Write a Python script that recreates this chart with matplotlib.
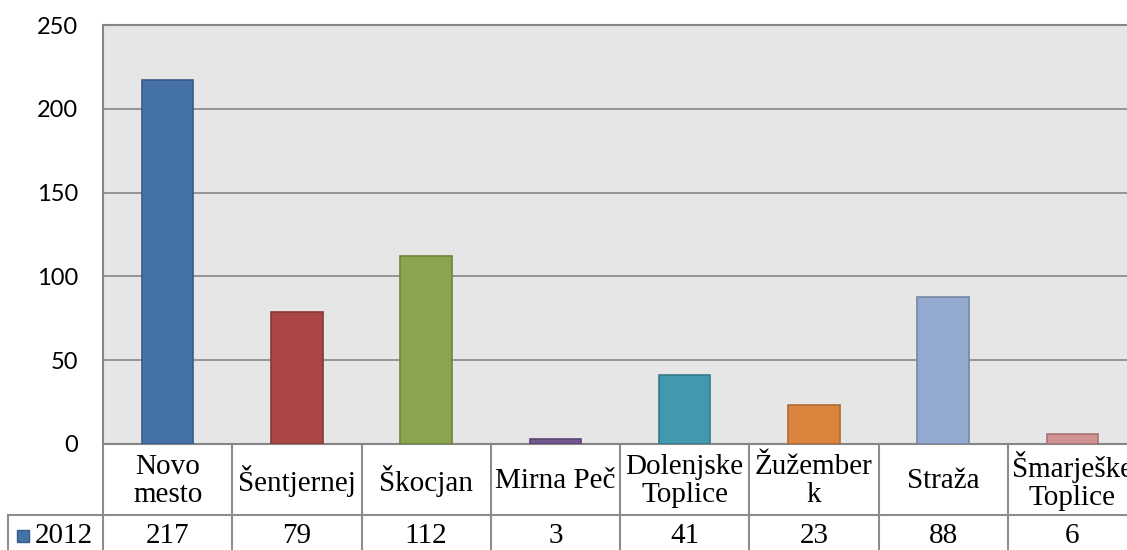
import matplotlib.pyplot as plt
import matplotlib.colors as mcolors
from matplotlib.patches import Rectangle

# data
categories = ['Novo\nmesto', 'Šentjernej', 'Škocjan', 'Mirna Peč', 'Dolenjske\nToplice',
              'Žužember\nk', 'Straža', 'Šmarješke\nToplice']
values = [217, 79, 112, 3, 41, 23, 88, 6]
series_name = '2012'
colors = ['#4572A7', '#AA4643', '#89A54E', '#71588F', '#4198AF', '#DB843D', '#93A9CF', '#D19392']
yticks = [0, 50, 100, 150, 200, 250]

W, H = 1127, 550
fig = plt.figure(figsize=(W / 100, H / 100), dpi=100)
# plot area in pixels: left 103, right ~1137 (cut off), top 25, bottom 444
ax = fig.add_axes([103 / W, 1 - 444 / H, (1137 - 103) / W, (444 - 25) / H])
ax.set_facecolor('#E6E6E6')

x = list(range(len(categories)))
edge = [tuple(c * 0.8 for c in mcolors.to_rgb(col)) for col in colors]
ax.bar(x, values, width=0.4, color=colors, edgecolor=edge, linewidth=1.2, zorder=3)

ax.set_xlim(-0.5, len(categories) - 0.5)
ax.set_ylim(0, 250)
ax.set_yticks(yticks)
ax.set_xticks([])
ax.yaxis.grid(True, color='#868686', linewidth=1.2, zorder=1)
ax.tick_params(axis='y', length=0, pad=18, labelsize=17)
for lab in ax.get_yticklabels():
    lab.set_fontfamily('Lato')
for sp in ax.spines.values():
    sp.set_color('#868686')
    sp.set_linewidth(1.5)

# data table under the plot
tr = ax.get_xaxis_transform()
line_col = '#8C8C8C'
axh = 444 - 25
row1 = -(515 - 444) / axh
row2 = -(560 - 444) / axh
left_leg = (8 - 103) / 129.25 - 0.5

for b in [i - 0.5 for i in range(len(categories) + 1)]:
    ax.plot([b, b], [0, row2], color=line_col, lw=1.5, transform=tr, clip_on=False)
ax.plot([left_leg, len(categories) - 0.5], [row1, row1], color=line_col, lw=1.5,
        transform=tr, clip_on=False)
ax.plot([left_leg, left_leg], [row1, row2], color=line_col, lw=1.5, transform=tr, clip_on=False)

serif = ['Liberation Serif', 'DejaVu Serif']
fs = 21
for i, (cat, v) in enumerate(zip(categories, values)):
    ax.text(i, -(481 - 444) / axh, cat, transform=tr, ha='center', va='center',
            fontsize=fs, family=serif, linespacing=1.12)
    ax.text(i, -(536 - 444) / axh, str(v), transform=tr, ha='center', va='center',
            fontsize=fs, family=serif)

# legend key
key_x = (17 - 103) / 129.25 - 0.5
key_w = 12 / 129.25
ax.add_patch(Rectangle((key_x, -(542 - 444) / axh), key_w, 12 / axh, transform=tr,
                       facecolor=colors[0], edgecolor=edge[0], lw=1, clip_on=False))
ax.text((35 - 103) / 129.25 - 0.5, -(536 - 444) / axh, series_name, transform=tr,
        ha='left', va='center', fontsize=fs, family=serif)

fig.savefig('out.png', dpi=100)
